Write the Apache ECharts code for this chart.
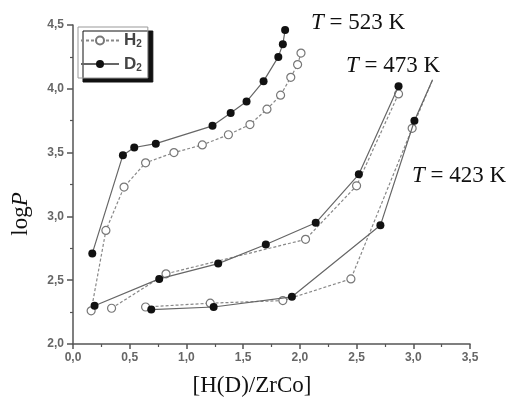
<!DOCTYPE html>
<html>
<head>
<meta charset="utf-8">
<script src="https://cdn.jsdelivr.net/npm/echarts@6/dist/echarts.min.js"></script>
<style>
  html, body { margin: 0; padding: 0; background: #fff; }
  #chart { width: 511px; height: 399px; }
</style>
</head>
<body>
<div id="chart"></div>
<script>
// [H(D)/ZrCo] and logP, per temperature
var x523D = [0.17, 0.44, 0.54, 0.73, 1.23, 1.39, 1.53, 1.68, 1.81, 1.85, 1.87];
var y523D = [2.71, 3.48, 3.54, 3.57, 3.71, 3.81, 3.90, 4.06, 4.25, 4.35, 4.46];
var x523H = [0.16, 0.29, 0.45, 0.64, 0.89, 1.14, 1.37, 1.56, 1.71, 1.83, 1.92, 1.98, 2.01];
var y523H = [2.26, 2.89, 3.23, 3.42, 3.50, 3.56, 3.64, 3.72, 3.84, 3.95, 4.09, 4.19, 4.28];

var x473D = [0.19, 0.76, 1.28, 1.70, 2.14, 2.52, 2.87];
var y473D = [2.30, 2.51, 2.63, 2.78, 2.95, 3.33, 4.02];
var x473H = [0.34, 0.82, 2.05, 2.50, 2.87];
var y473H = [2.28, 2.55, 2.82, 3.24, 3.96];

// last point of the 423 K curves is only a line end (no marker)
var x423D = [0.69, 1.24, 1.93, 2.71, 3.01, 3.17];
var y423D = [2.27, 2.29, 2.37, 2.93, 3.75, 4.07];
var x423H = [0.64, 1.21, 1.85, 2.45, 2.99, 3.17];
var y423H = [2.29, 2.32, 2.34, 2.51, 3.69, 4.07];

var tempLabels = ['523 K', '473 K', '423 K'];

var chart = echarts.init(document.getElementById('chart'));

function pairs(xs, ys, openEnd) {
  var out = [];
  for (var i = 0; i < xs.length; i++) {
    if (openEnd && i == xs.length - 1) {
      out.push({ value: [xs[i], ys[i]], symbol: 'none' });
    } else {
      out.push([xs[i], ys[i]]);
    }
  }
  return out;
}

function hSeries(xs, ys, openEnd) {
  return {
    name: 'H2',
    type: 'line',
    symbol: 'circle',
    symbolSize: 8,
    z: 2,
    itemStyle: { color: '#fff', borderColor: '#777', borderWidth: 1.2 },
    lineStyle: { color: '#888', width: 1.2, type: [3, 2] },
    data: pairs(xs, ys, openEnd)
  };
}
function dSeries(xs, ys, openEnd) {
  return {
    name: 'D2',
    type: 'line',
    symbol: 'circle',
    symbolSize: 8,
    z: 3,
    itemStyle: { color: '#111', borderColor: '#111', borderWidth: 0 },
    lineStyle: { color: '#666', width: 1.2, type: 'solid' },
    data: pairs(xs, ys, openEnd)
  };
}

var fmt = function (v) { return v.toFixed(1).replace('.', ','); };
var serif = '"Liberation Serif", "Times New Roman", serif';

function tempText(label, left, cy) {
  return {
    type: 'text',
    left: left,
    top: cy - 12,
    style: {
      text: '{i|T} = ' + label,
      fontFamily: serif,
      fontSize: 23,
      fill: '#111',
      rich: { i: { fontStyle: 'italic', fontFamily: serif, fontSize: 23, fill: '#111' } }
    }
  };
}

var option = {
  backgroundColor: '#fff',
  animation: false,
  grid: { left: 73, right: 41, top: 25, bottom: 55 },
  legend: {
    orient: 'vertical',
    left: 78,
    top: 27,
    padding: [5, 6, 5, 2],
    itemWidth: 38,
    itemHeight: 10,
    itemGap: 6,
    backgroundColor: '#fff',
    borderColor: '#999',
    borderWidth: 1,
    shadowColor: '#111',
    shadowBlur: 0,
    shadowOffsetX: 5,
    shadowOffsetY: 4,
    data: ['H2', 'D2'],
    formatter: function (name) { return '{m|' + name.charAt(0) + '}{s|2}'; },
    textStyle: {
      rich: {
        m: { fontFamily: 'Liberation Sans, Arial', fontSize: 17, color: '#444', fontWeight: 'bold' },
        s: { fontFamily: 'Liberation Sans, Arial', fontSize: 10, color: '#444', fontWeight: 'bold', padding: [8, 0, 0, 0] }
      }
    }
  },
  xAxis: {
    type: 'value',
    min: 0,
    max: 3.5,
    interval: 0.5,
    axisLine: { lineStyle: { color: '#555', width: 1.5 } },
    axisTick: { length: 5, lineStyle: { color: '#555', width: 1.5 } },
    minorTick: { show: true, splitNumber: 2, length: 3, lineStyle: { color: '#555', width: 1.2 } },
    splitLine: { show: false },
    axisLabel: {
      margin: 8,
      color: '#666',
      fontFamily: 'Liberation Sans, Arial',
      fontSize: 12,
      fontWeight: 'bold',
      formatter: fmt
    }
  },
  yAxis: {
    type: 'value',
    min: 2,
    max: 4.5,
    interval: 0.5,
    axisLine: { show: true, lineStyle: { color: '#555', width: 1.5 } },
    axisTick: { show: true, length: 6, lineStyle: { color: '#555', width: 1.5 } },
    minorTick: { show: true, splitNumber: 2, length: 3, lineStyle: { color: '#555', width: 1.2 } },
    splitLine: { show: false },
    axisLabel: {
      margin: 9,
      color: '#666',
      fontFamily: 'Liberation Sans, Arial',
      fontSize: 12,
      fontWeight: 'bold',
      formatter: fmt
    }
  },
  graphic: [
    tempText(tempLabels[0], 311, 23),
    tempText(tempLabels[1], 346, 66),
    tempText(tempLabels[2], 412, 176),
    {
      type: 'text',
      x: 252,
      y: 386,
      style: {
        text: '[H(D)/ZrCo]',
        fontFamily: serif,
        fontSize: 23,
        fill: '#111',
        align: 'center',
        verticalAlign: 'middle'
      }
    },
    {
      type: 'text',
      x: 21,
      y: 214,
      rotation: Math.PI / 2,
      style: {
        text: '{n|log}{i|P}',
        align: 'center',
        verticalAlign: 'middle',
        rich: {
          n: { fontFamily: serif, fontSize: 23, fill: '#111' },
          i: { fontFamily: serif, fontSize: 23, fill: '#111', fontStyle: 'italic' }
        }
      }
    }
  ],
  series: [
    hSeries(x523H, y523H, false),
    hSeries(x473H, y473H, false),
    hSeries(x423H, y423H, true),
    dSeries(x523D, y523D, false),
    dSeries(x473D, y473D, false),
    dSeries(x423D, y423D, true)
  ]
};

chart.setOption(option);
</script>
</body>
</html>
